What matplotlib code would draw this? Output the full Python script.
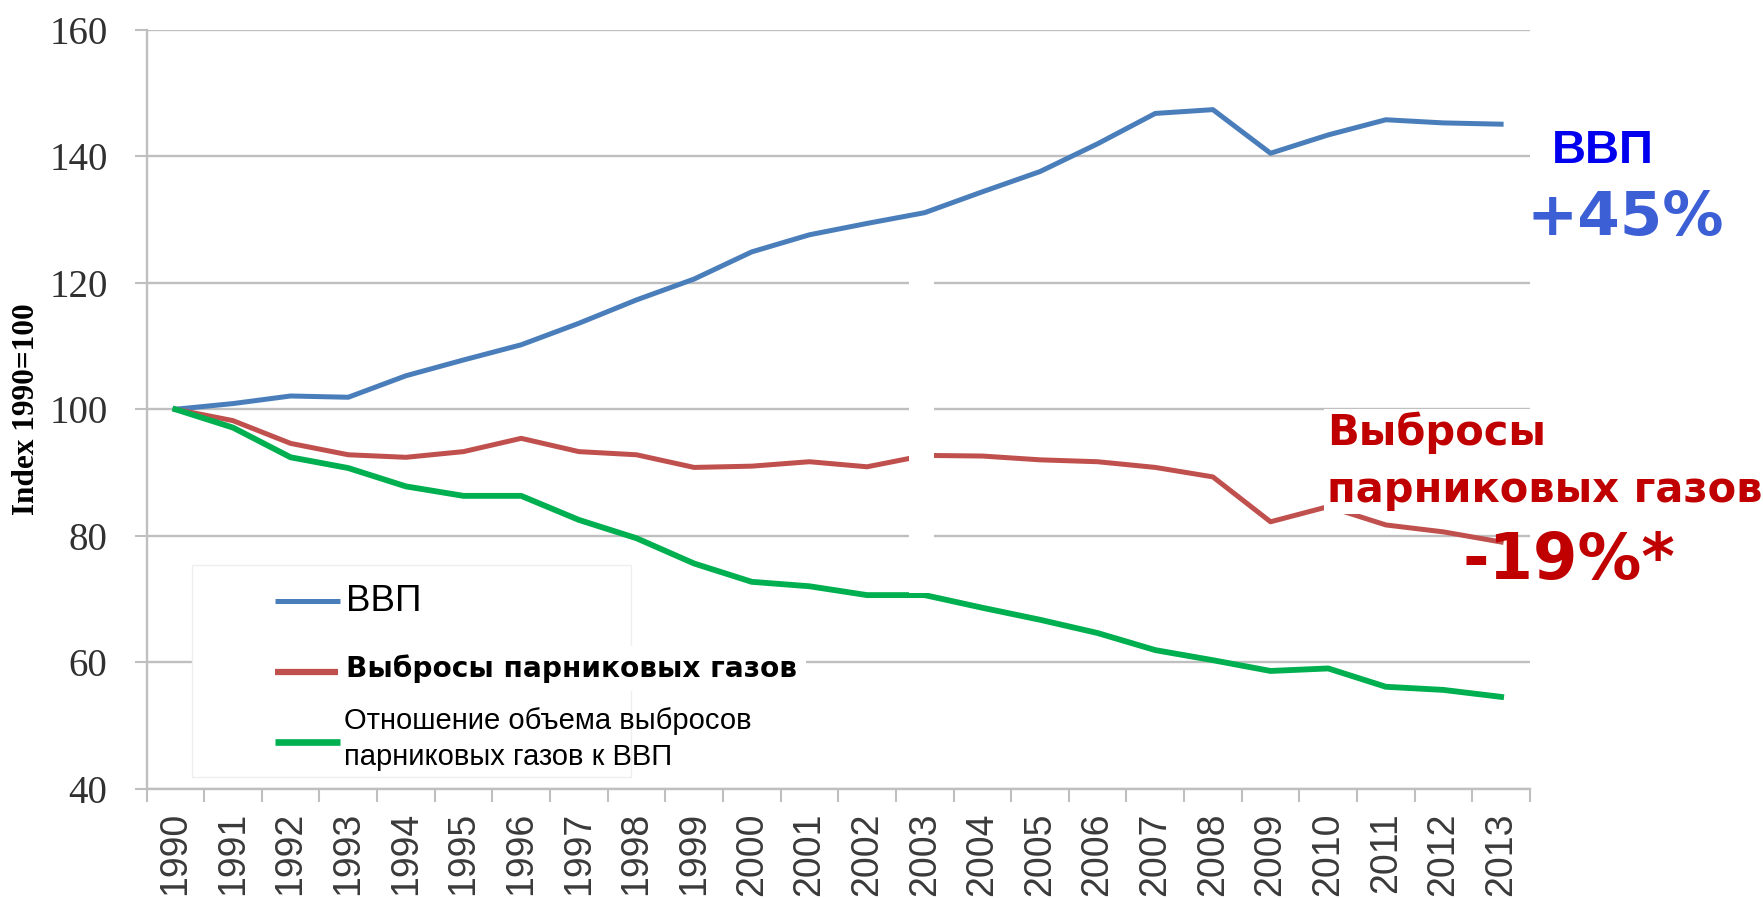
import matplotlib
matplotlib.use("Agg")
import matplotlib.pyplot as plt
from matplotlib.patches import Rectangle

# data (index, 1990 = 100)
years = [str(y) for y in range(1990, 2014)]
gdp = [100, 100.9, 102.1, 101.9, 105.3, 107.8, 110.2, 113.6, 117.3, 120.6, 124.9, 127.6,
       129.4, 131.1, 134.4, 137.6, 142.0, 146.8, 147.4, 140.5, 143.4, 145.8, 145.3, 145.1]
ghg = [100, 98.2, 94.6, 92.8, 92.4, 93.3, 95.4, 93.3, 92.8, 90.8, 91.0, 91.7,
       90.9, 92.7, 92.6, 92.0, 91.7, 90.8, 89.3, 82.2, 84.6, 81.7, 80.6, 79.0]
ratio = [100, 97.1, 92.4, 90.7, 87.8, 86.3, 86.3, 82.5, 79.6, 75.6, 72.7, 72.0,
         70.6, 70.6, 68.6, 66.7, 64.6, 61.9, 60.3, 58.6, 59.0, 56.1, 55.6, 54.5]

labels = ["ВВП", "Выбросы парниковых газов",
          "Отношение объема выбросов\nпарниковых газов к ВВП"]
colors = ["#4a7ebb", "#c0504d", "#00b050"]
yticks = [40, 60, 80, 100, 120, 140, 160]

grid_col = "#bfbfbf"
text_col = "#303030"

fig = plt.figure(figsize=(17.63, 8.98), dpi=100)
ax = fig.add_axes([0.0831, 0.1219, 0.7847, 0.8447])

x = list(range(len(years)))
ax.plot(x, gdp, color=colors[0], lw=3.6, zorder=3)
ax.plot(x, ghg, color=colors[1], lw=3.6, zorder=3)
ax.plot(x, ratio, color=colors[2], lw=4.2, zorder=3)

ax.set_xlim(-0.5, len(years) - 0.5)
ax.set_ylim(40, 160)

# y axis
ax.set_yticks(yticks)
ax.set_yticklabels([str(v) for v in yticks], fontfamily="Liberation Serif",
                   fontsize=28, color=text_col)
ax.tick_params(axis="y", length=9, width=1.5, color=grid_col, pad=19)
ax.grid(axis="y", color=grid_col, lw=1.7, zorder=0)
ax.set_ylabel("Index 1990=100", fontfamily="Liberation Serif", fontweight="bold",
              fontsize=22.5, color="black")
ax.yaxis.set_label_coords(-0.076, 0.5)

# x axis: labels at centres, tick marks between categories
ax.set_xticks(x)
ax.set_xticklabels(years, rotation=90, fontfamily="Liberation Sans",
                   fontsize=27, color="#3a3a3a")
ax.set_xticks([i - 0.5 for i in range(len(years) + 1)], minor=True)
ax.tick_params(axis="x", which="major", length=0, pad=17)
ax.tick_params(axis="x", which="minor", length=9.5, width=1.5, color=grid_col)

for s in ["top", "right"]:
    ax.spines[s].set_visible(False)
for s in ["left", "bottom"]:
    ax.spines[s].set_color(grid_col)
    ax.spines[s].set_linewidth(1.7)

# white gap left over in the source picture near 2003
ax.add_patch(Rectangle((12.73, 71), 0.43, 54, facecolor="white", edgecolor="none", zorder=4))

# hand made legend box
ax.add_patch(Rectangle((0.033, 0.015), 0.317, 0.28, transform=ax.transAxes,
                       facecolor="white", edgecolor="#eeeeee", lw=1, zorder=5))
key_y = [0.247, 0.154, 0.061]
key_lw = [3.6, 4.5, 4.8]
for c, yy, w in zip(colors, key_y, key_lw):
    ax.plot([0.093, 0.140], [yy, yy], transform=ax.transAxes, color=c, lw=w,
            solid_capstyle="butt", zorder=6)
ax.text(0.1445, key_y[0], labels[0], transform=ax.transAxes, fontfamily="Liberation Sans",
        fontsize=26.5, va="center", ha="left", zorder=6)
ax.text(0.1445, key_y[1] + 0.004, labels[1], transform=ax.transAxes, fontfamily="DejaVu Sans",
        fontweight="bold", fontsize=20.2, va="center", ha="left", zorder=6,
        bbox=dict(facecolor="white", edgecolor="none", pad=6))
ax.text(0.1425, key_y[2] + 0.004, labels[2], transform=ax.transAxes,
        fontfamily="Liberation Sans", fontsize=21, va="center", ha="left",
        linespacing=1.35, zorder=6)

# annotations on the right
fig.text(0.8803, 0.8185, "ВВП", color="#0000ee", fontfamily="Liberation Sans",
         fontweight="bold", fontsize=34, ha="left", va="baseline")
fig.text(0.8656, 0.7383, "+45%", color="#3d5fd6", fontfamily="DejaVu Sans",
         fontweight="bold", fontsize=44, ha="left", va="baseline")
fig.text(0.7527, 0.441, "Выбросы\nпарниковых газов", color="#c00000",
         fontfamily="DejaVu Sans", fontweight="bold", fontsize=30, ha="left",
         va="baseline", linespacing=1.45, zorder=6,
         bbox=dict(facecolor="white", edgecolor="none", pad=2))
fig.text(0.8293, 0.3552, "-19%*", color="#c00000", fontfamily="DejaVu Sans",
         fontweight="bold", fontsize=46, ha="left", va="baseline", zorder=7)

fig.savefig("out.png", dpi=100)
